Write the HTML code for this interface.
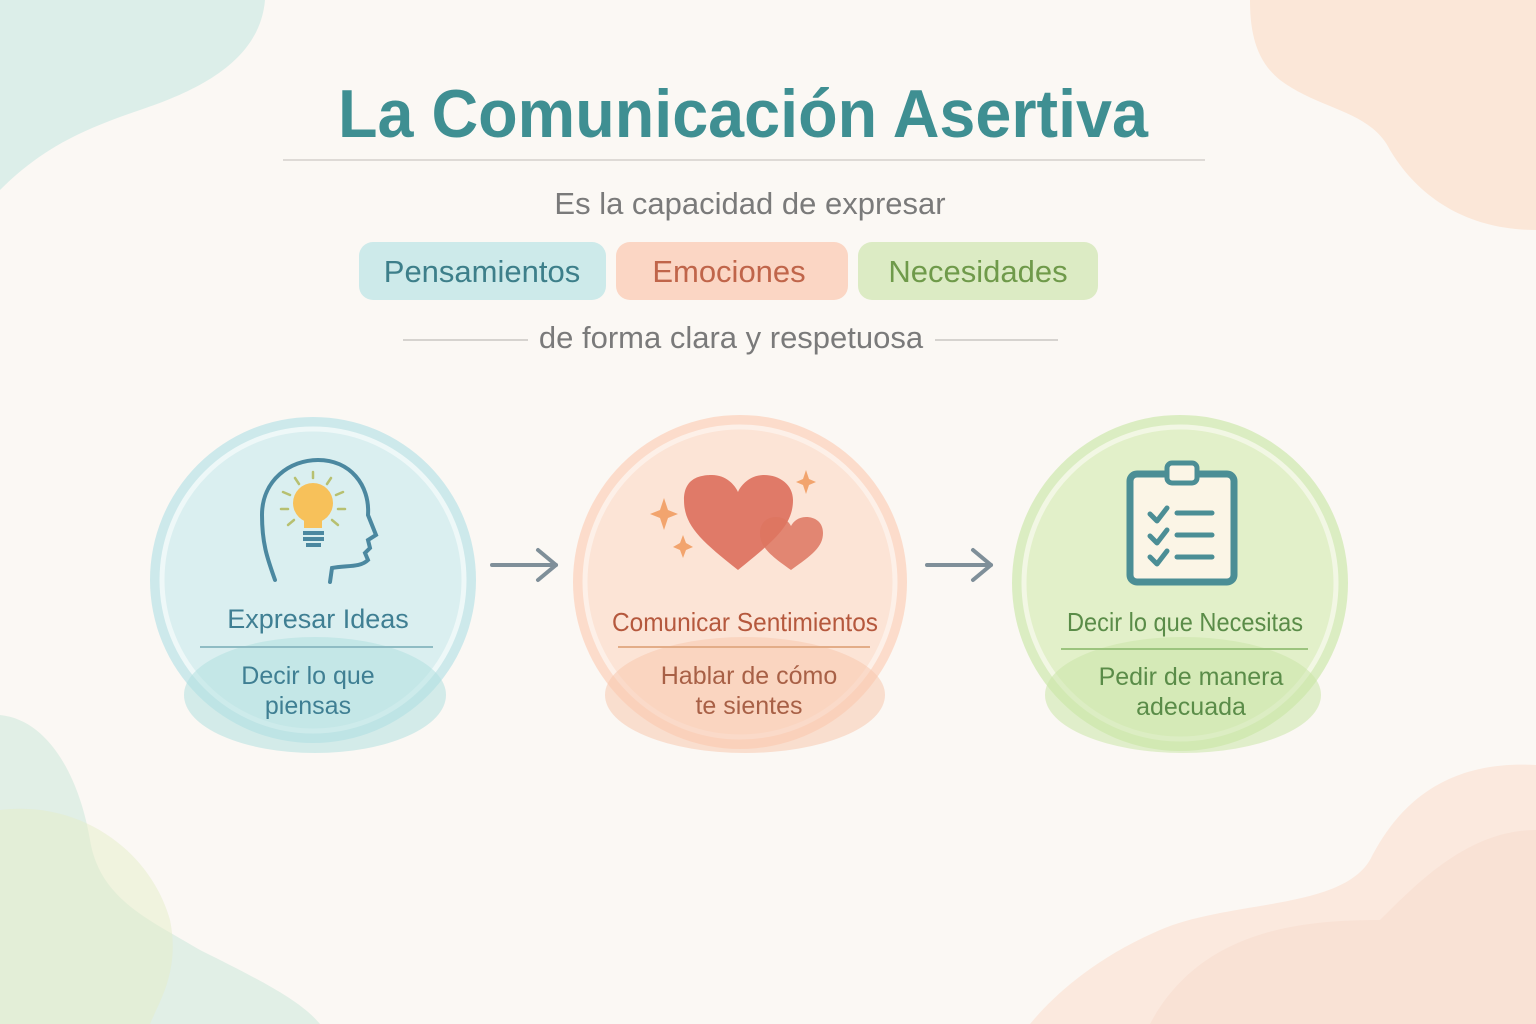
<!DOCTYPE html>
<html><head><meta charset="utf-8"><style>html,body{margin:0;padding:0;background:#fbf8f4}svg{display:block}text{font-family:"Liberation Sans",sans-serif}</style></head><body>
<svg width="1536" height="1024" viewBox="0 0 1536 1024" xmlns="http://www.w3.org/2000/svg">
<rect width="1536" height="1024" fill="#fbf8f4"/>
<path d="M0 0 H265 C260 60 200 90 140 110 C80 130 40 150 0 190 Z" fill="#cfe9e4" opacity="0.7"/>
<path d="M1250 0 H1536 V230 C1470 230 1420 200 1390 150 C1370 110 1320 110 1280 80 C1255 60 1250 30 1250 0 Z" fill="#fbe0cc" opacity="0.7"/>
<path d="M0 715 C50 720 80 780 90 840 C100 900 150 920 200 950 C260 980 300 1000 320 1024 H0 Z" fill="#d5ebe0" opacity="0.7"/>
<path d="M0 810 C80 800 150 850 170 920 C180 970 160 1000 150 1024 H0 Z" fill="#e6edc8" opacity="0.5"/>
<path d="M1536 765 C1450 760 1400 800 1370 860 C1340 910 1230 900 1160 930 C1090 960 1050 1000 1030 1024 H1536 Z" fill="#fbe3d4" opacity="0.7"/>
<path d="M1536 830 C1470 830 1420 880 1380 920 C1300 920 1200 930 1150 1024 H1536 Z" fill="#f8d8c8" opacity="0.4"/>
<text x="743" y="137" text-anchor="middle" font-size="68" font-weight="bold" fill="#3f8f92" textLength="810" lengthAdjust="spacingAndGlyphs">La Comunicación Asertiva</text>
<line x1="283" y1="160" x2="1205" y2="160" stroke="#dedad6" stroke-width="2"/>
<text x="750" y="214" text-anchor="middle" font-size="31" fill="#7a7a7a">Es la capacidad de expresar</text>
<rect x="359" y="242" width="247" height="58" rx="14" fill="#cdeaea"/>
<text x="482" y="282" text-anchor="middle" font-size="31" fill="#3d7f8a">Pensamientos</text>
<rect x="616" y="242" width="232" height="58" rx="14" fill="#fbd6c4"/>
<text x="729" y="282" text-anchor="middle" font-size="31" fill="#c0654a">Emociones</text>
<rect x="858" y="242" width="240" height="58" rx="14" fill="#dcebc4"/>
<text x="978" y="282" text-anchor="middle" font-size="31" fill="#6f9a4a">Necesidades</text>
<line x1="403" y1="340" x2="528" y2="340" stroke="#d6d3cf" stroke-width="2"/>
<line x1="935" y1="340" x2="1058" y2="340" stroke="#d6d3cf" stroke-width="2"/>
<text x="731" y="348" text-anchor="middle" font-size="31" fill="#7a7a7a">de forma clara y respetuosa</text>
<circle cx="313" cy="580" r="163" fill="#cde9eb"/>
<circle cx="313" cy="580" r="151" fill="#daeff0" stroke="#eef8f8" stroke-width="5"/>
<ellipse cx="315" cy="695" rx="131" ry="58" fill="#b3e0e0" opacity="0.55"/>
<path d="M275 580 C268 560 262 545 262 515 C262 480 290 460 318 460 C350 460 370 485 368 515 L376 535 L368 540 L370 548 L365 553 L368 560 C360 568 345 565 332 568 L330 582" fill="none" stroke="#4b88a0" stroke-width="4" stroke-linecap="round"/>
<circle cx="313" cy="503" r="20" fill="#f7c15a"/>
<rect x="304" y="520" width="18" height="8" fill="#f7c15a"/>
<rect x="303" y="531" width="21" height="4" fill="#4b88a0"/><rect x="303" y="537" width="21" height="4" fill="#4b88a0"/><rect x="306" y="543" width="15" height="4" fill="#4b88a0"/>
<g stroke="#b7c070" stroke-width="2.5" stroke-linecap="round"><line x1="313" y1="472" x2="313" y2="478"/><line x1="295" y1="478" x2="299" y2="484"/><line x1="331" y1="478" x2="327" y2="484"/><line x1="283" y1="492" x2="290" y2="495"/><line x1="343" y1="492" x2="336" y2="495"/><line x1="281" y1="509" x2="288" y2="509"/><line x1="345" y1="509" x2="338" y2="509"/><line x1="288" y1="525" x2="294" y2="520"/><line x1="338" y1="525" x2="332" y2="520"/></g>
<text x="318" y="628" text-anchor="middle" font-size="27" fill="#3f7f93">Expresar Ideas</text>
<line x1="200" y1="647" x2="433" y2="647" stroke="#8fbcc4" stroke-width="2"/>
<text x="308" y="684" text-anchor="middle" font-size="25" fill="#3f7f93">Decir lo que</text>
<text x="308" y="714" text-anchor="middle" font-size="25" fill="#3f7f93">piensas</text>
<g stroke="#7f8f99" stroke-width="4" fill="none" stroke-linecap="round" stroke-linejoin="round"><line x1="492" y1="565" x2="556" y2="565"/><polyline points="538,550 556,565 538,580"/><line x1="927" y1="565" x2="991" y2="565"/><polyline points="973,550 991,565 973,580"/></g>
<circle cx="740" cy="582" r="167" fill="#fcdccb"/>
<circle cx="740" cy="582" r="155" fill="#fce4d6" stroke="#fdf0e8" stroke-width="5"/>
<ellipse cx="745" cy="695" rx="140" ry="58" fill="#f8c8ae" opacity="0.55"/>
<path d="M738 570 C700 540 684 525 684 500 C684 478 700 475 712 475 C726 475 735 485 738 492 C741 485 750 475 764 475 C780 475 793 485 793 500 C793 525 775 540 738 570 Z" fill="#e07a68"/>
<path d="M791 570 C770 555 760 547 760 533 C760 522 768 517 776 517 C784 517 789 522 791 526 C793 522 798 517 806 517 C815 517 823 522 823 533 C823 547 812 555 791 570 Z" fill="#dd7560" opacity="0.85"/>
<g fill="#f2a46e"><path d="M664 498 L668 510 L678 514 L668 518 L664 530 L660 518 L650 514 L660 510 Z"/><path d="M683 535 L686 543 L693 547 L686 550 L683 558 L680 550 L673 547 L680 543 Z"/><path d="M806 470 L809 479 L816 482 L809 485 L806 494 L803 485 L796 482 L803 479 Z"/></g>
<text x="745" y="631" text-anchor="middle" font-size="26" fill="#b5583d" textLength="266" lengthAdjust="spacingAndGlyphs">Comunicar Sentimientos</text>
<line x1="618" y1="647" x2="870" y2="647" stroke="#e3ad88" stroke-width="2"/>
<text x="749" y="684" text-anchor="middle" font-size="25" fill="#a86046">Hablar de cómo</text>
<text x="749" y="714" text-anchor="middle" font-size="25" fill="#a86046">te sientes</text>
<circle cx="1180" cy="583" r="168" fill="#dbedc2"/>
<circle cx="1180" cy="583" r="156" fill="#e2f0c9" stroke="#f2f7e4" stroke-width="5"/>
<ellipse cx="1183" cy="695" rx="138" ry="58" fill="#cbe5a8" opacity="0.55"/>
<rect x="1130" y="474" width="104" height="108" rx="7" fill="#fbf5e6" stroke="#4b8e95" stroke-width="7"/>
<rect x="1167" y="463" width="30" height="20" rx="5" fill="#fbf5e6" stroke="#4b8e95" stroke-width="5"/>
<g stroke="#4b8e95" stroke-width="5" fill="none" stroke-linecap="round" stroke-linejoin="round"><polyline points="1150,514 1157,521 1167,508"/><polyline points="1150,536 1157,543 1167,530"/><polyline points="1150,557 1157,564 1167,551"/><line x1="1177" y1="513" x2="1212" y2="513"/><line x1="1177" y1="535" x2="1212" y2="535"/><line x1="1177" y1="557" x2="1212" y2="557"/></g>
<text x="1185" y="631" text-anchor="middle" font-size="26" fill="#5a8c48" textLength="236" lengthAdjust="spacingAndGlyphs">Decir lo que Necesitas</text>
<line x1="1061" y1="649" x2="1308" y2="649" stroke="#9cc47e" stroke-width="2"/>
<text x="1191" y="685" text-anchor="middle" font-size="25" fill="#5a8c48">Pedir de manera</text>
<text x="1191" y="715" text-anchor="middle" font-size="25" fill="#5a8c48">adecuada</text>
</svg>
</body></html>
